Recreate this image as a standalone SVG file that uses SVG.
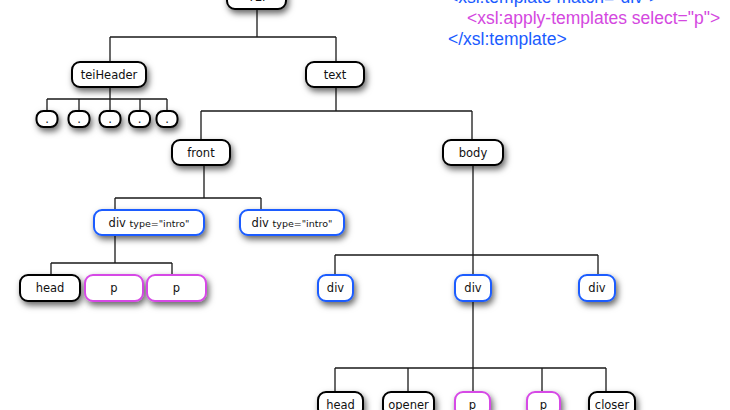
<svg xmlns="http://www.w3.org/2000/svg" width="730" height="410" viewBox="0 0 730 410">
<defs>
<filter id="sh" x="-30%" y="-50%" width="170%" height="220%">
<feDropShadow dx="2" dy="3.5" stdDeviation="3" flood-color="#000" flood-opacity="0.6"/>
</filter>
</defs>
<style>
.b{fill:#fff;stroke:#000;stroke-width:2;filter:url(#sh)}
.bl{fill:#fff;stroke:#1a5cff;stroke-width:2;filter:url(#sh)}
.mg{fill:#fff;stroke:#d64ae6;stroke-width:2;filter:url(#sh)}
.t{font-family:"DejaVu Sans",Verdana,sans-serif;font-size:11.5px;fill:#111;text-anchor:middle}
.s{font-size:9.5px}
.c{font-family:"Liberation Sans",Arial,sans-serif;font-size:17.5px}
.cb{fill:#1b5cff}
.cm{fill:#d448e0}
#connectors path{fill:none;stroke:#1a1a1a;stroke-width:1.3}
</style>
<rect width="730" height="410" fill="#fff"/>
<g id="connectors">
<path d="M257 9V37M110 37H336M110 37V62M336 37V62"/>
<path d="M110 87V111M47 99H167M47 99V111M79 99V111M140 99V111M167 99V111"/>
<path d="M336 87V111M201 111H472M201 111V140M472 111V140"/>
<path d="M204 165V198M115 198H261M115 198V210M261 198V210"/>
<path d="M115 235V263M51 263H172M51 263V275M172 263V275"/>
<path d="M473 165V275M335 255H598M335 255V275M598 255V275"/>
<path d="M473 301V392M335 368H606M335 368V392M408 368V392M542 368V392M606 368V392"/>
</g>
<g id="code">
<text class="c cb" x="448" y="3">&lt;xsl:template match="div"&gt;</text>
<text class="c cm" x="467" y="24">&lt;xsl:apply-templates select="p"&gt;</text>
<text class="c cb" x="448" y="45">&lt;/xsl:template&gt;</text>
</g>
<g id="root"><rect class="b" x="227" y="-16" width="59" height="25" rx="8"/><text class="t" x="256.5" y="1">TEI</text></g>
<g id="teiHeader"><rect class="b" x="72" y="62" width="74" height="25" rx="8"/><text class="t" x="109" y="78.5">teiHeader</text></g>
<g id="text"><rect class="b" x="306" y="62" width="58" height="25" rx="8"/><text class="t" x="335" y="78.5">text</text></g>
<g id="h1"><rect class="b" x="36.5" y="111" width="21" height="16" rx="7"/><text class="t" x="47" y="123">.</text></g>
<g id="h2"><rect class="b" x="68.5" y="111" width="21" height="16" rx="7"/><text class="t" x="79" y="123">.</text></g>
<g id="h3"><rect class="b" x="99.5" y="111" width="21" height="16" rx="7"/><text class="t" x="110" y="123">.</text></g>
<g id="h4"><rect class="b" x="129" y="111" width="21" height="16" rx="7"/><text class="t" x="139.5" y="123">.</text></g>
<g id="h5"><rect class="b" x="156.5" y="111" width="21" height="16" rx="7"/><text class="t" x="167" y="123">.</text></g>
<g id="front"><rect class="b" x="172" y="140" width="58" height="25" rx="8"/><text class="t" x="201" y="156.5">front</text></g>
<g id="body"><rect class="b" x="443" y="140" width="60" height="25" rx="8"/><text class="t" x="473" y="156.5">body</text></g>
<g id="divIntro1"><rect class="bl" x="94" y="210" width="110" height="25" rx="8"/><text class="t" x="149" y="226.5">div <tspan class="s">type="intro"</tspan></text></g>
<g id="divIntro2"><rect class="bl" x="240" y="210" width="104" height="25" rx="8"/><text class="t" x="292" y="226.5">div <tspan class="s">type="intro"</tspan></text></g>
<g id="head1"><rect class="b" x="20" y="275" width="60" height="26" rx="8"/><text class="t" x="50" y="292">head</text></g>
<g id="p1"><rect class="mg" x="85" y="275" width="58" height="26" rx="8"/><text class="t" x="114" y="292">p</text></g>
<g id="p2"><rect class="mg" x="147" y="275" width="59" height="26" rx="8"/><text class="t" x="176.5" y="292">p</text></g>
<g id="div1"><rect class="bl" x="318" y="275" width="35" height="26" rx="8"/><text class="t" x="335.5" y="292">div</text></g>
<g id="div2"><rect class="bl" x="455" y="275" width="36" height="26" rx="8"/><text class="t" x="473" y="292">div</text></g>
<g id="div3"><rect class="bl" x="579" y="275" width="36" height="26" rx="8"/><text class="t" x="597" y="292">div</text></g>
<g id="head2"><rect class="b" x="318" y="392" width="45" height="25" rx="8"/><text class="t" x="340.5" y="409">head</text></g>
<g id="opener"><rect class="b" x="383" y="392" width="51" height="25" rx="8"/><text class="t" x="408.5" y="409">opener</text></g>
<g id="p3"><rect class="mg" x="455" y="392" width="35" height="25" rx="8"/><text class="t" x="472.5" y="409">p</text></g>
<g id="p4"><rect class="mg" x="527" y="392" width="33" height="25" rx="8"/><text class="t" x="543.5" y="409">p</text></g>
<g id="closer"><rect class="b" x="589" y="392" width="46" height="25" rx="8"/><text class="t" x="612" y="409">closer</text></g>
</svg>
